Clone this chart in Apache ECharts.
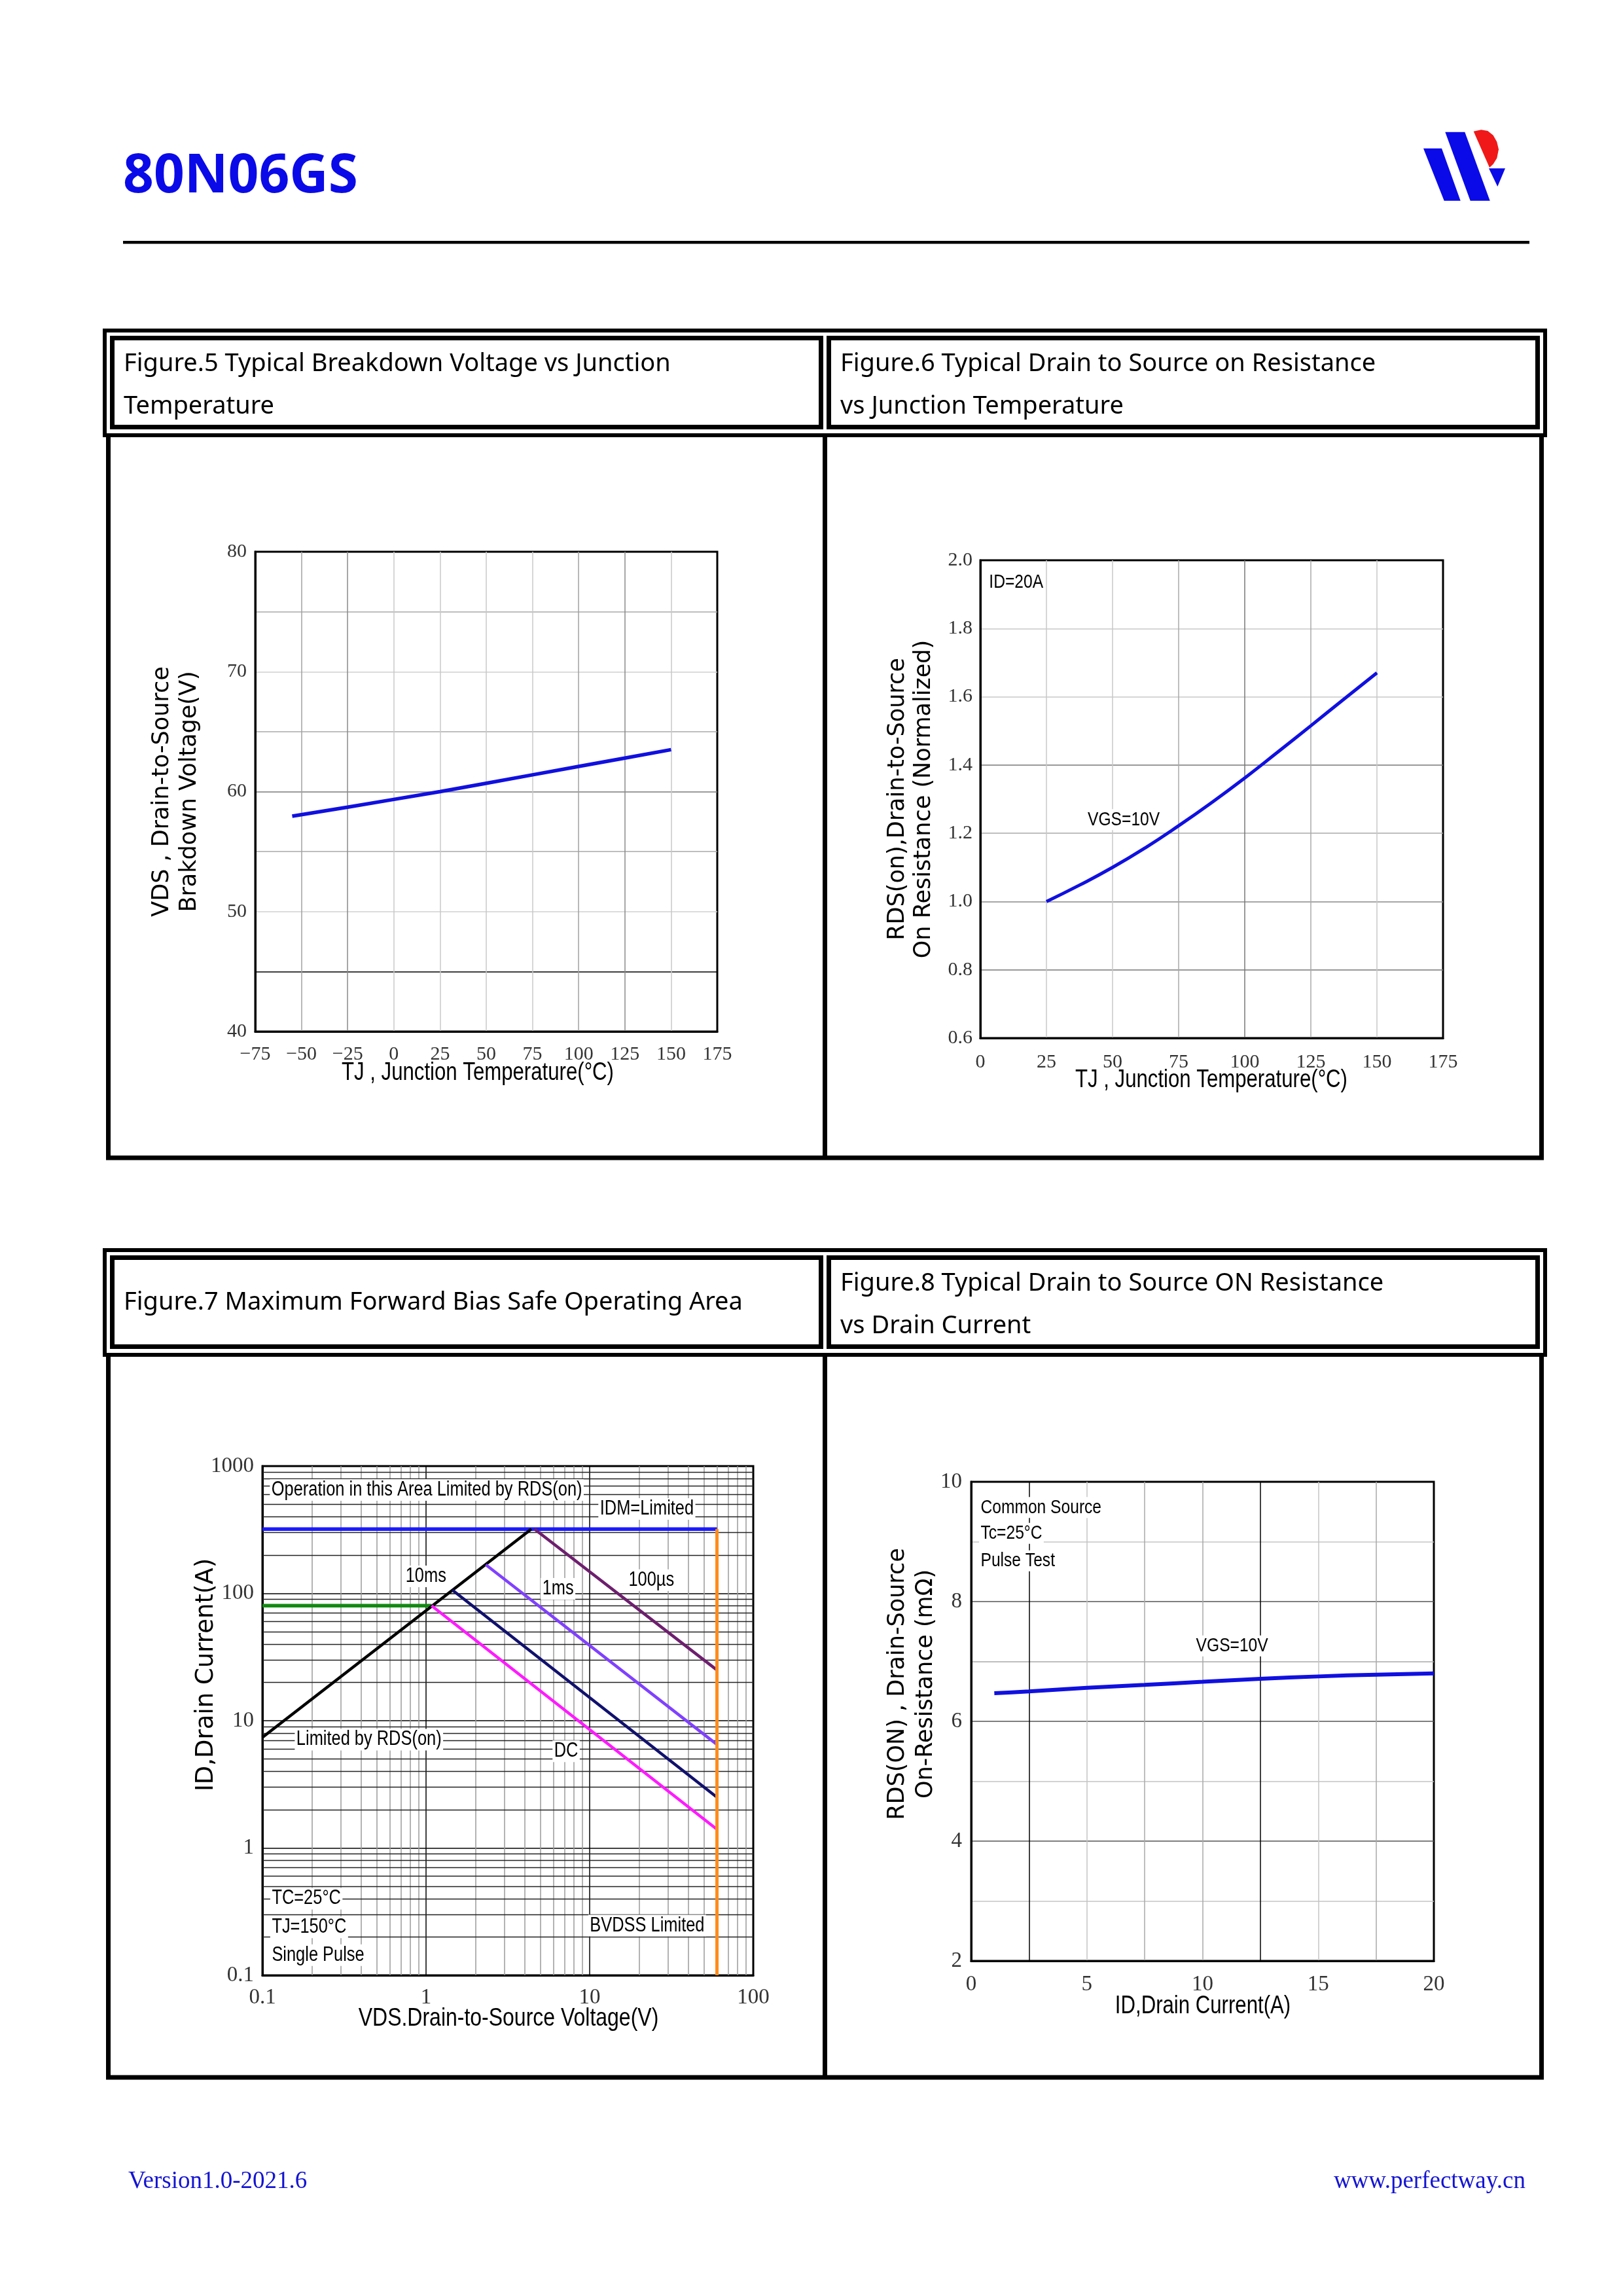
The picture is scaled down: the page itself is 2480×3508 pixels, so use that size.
<!DOCTYPE html>
<html>
<head>
<meta charset="utf-8">
<script src="https://cdn.jsdelivr.net/npm/echarts@6.0.0/dist/echarts.min.js"></script>
<style>
html,body{margin:0;padding:0;background:#fff;}
#c{width:2480px;height:3508px;}
</style>
</head>
<body>
<div id="c"></div>
<script>
// ---------------- DATA ----------------
// Figure 5: breakdown voltage vs junction temperature
const fig5Temp  = [-55, -25, 0, 25, 50, 75, 100, 125, 150];
const fig5BVDSS = [57.95, 58.7, 59.35, 60.0, 60.7, 61.4, 62.1, 62.8, 63.5];

// Figure 6: normalized RDS(on) vs junction temperature
const fig6Temp = [25, 37.5, 50, 62.5, 75, 87.5, 100, 112.5, 125, 137.5, 150];
const fig6Rds  = [1.000, 1.048, 1.100, 1.158, 1.222, 1.290, 1.362, 1.438, 1.515, 1.593, 1.670];

// Figure 7: safe operating area (VDS in V, ID in A)
const soaRdsLimitV = [0.1, 4.4];  const soaRdsLimitI = [7.4, 320];
const soaIdmV      = [0.1, 60];   const soaIdmI      = [320, 320];
const soaIdV       = [0.1, 1.08]; const soaIdI       = [80, 80];
const soaBvdssV    = [60, 60];    const soaBvdssI    = [0.1, 320];
const soa100usV    = [4.6, 60];   const soa100usI    = [320, 25];
const soa1msV      = [2.32, 60];  const soa1msI      = [168, 6.5];
const soa10msV     = [1.45, 60];  const soa10msI     = [106, 2.5];
const soaDcV       = [1.08, 60];  const soaDcI       = [80, 1.4];
const logMinorSteps = [2, 3, 4, 5, 6, 7, 8, 9];
const soaXDecades = [0.1, 1, 10];
const soaYDecades = [0.1, 1, 10, 100];

// Figure 8: RDS(on) vs drain current
const fig8Id  = [1, 2.5, 5, 7.5, 10, 12.5, 15, 17.5, 20];
const fig8Rds = [6.47, 6.50, 6.56, 6.61, 6.66, 6.71, 6.75, 6.78, 6.80];

// Texts
const pageTitle = '80N06GS';
const fig5Title = ['Figure.5 Typical Breakdown Voltage vs Junction', 'Temperature'];
const fig6Title = ['Figure.6 Typical Drain to Source on Resistance', 'vs Junction Temperature'];
const fig7Title = ['Figure.7 Maximum Forward Bias Safe Operating Area'];
const fig8Title = ['Figure.8 Typical Drain to Source ON Resistance', 'vs Drain Current'];
const footerLeft = 'Version1.0-2021.6';
const footerRight = 'www.perfectway.cn';
const fig5XName = 'TJ , Junction Temperature(°C)';
const fig6XName = 'TJ , Junction Temperature(°C)';
const fig7XName = 'VDS.Drain-to-Source Voltage(V)';
const fig8XName = 'ID,Drain Current(A)';

const fig6Notes = [
  {text: 'ID=20A', x: 2.7, y: 1.935},
  {text: 'VGS=10V', x: 40, y: 1.24}
];
const fig7Notes = [
  {text: 'Operation in this Area Limited by RDS(on)', x: 0.111, y: 650},
  {text: 'IDM=Limited', x: 11.3, y: 461},
  {text: '10ms', x: 0.733, y: 136},
  {text: '1ms', x: 5.02, y: 108.6},
  {text: '100µs', x: 16.9, y: 127},
  {text: 'Limited by RDS(on)', x: 0.1576, y: 7.1},
  {text: 'DC', x: 5.93, y: 5.75},
  {text: 'TC=25°C', x: 0.1116, y: 0.40},
  {text: 'TJ=150°C', x: 0.1116, y: 0.238},
  {text: 'Single Pulse', x: 0.1116, y: 0.144},
  {text: 'BVDSS Limited', x: 51.5, y: 0.246, pos: 'left'}
];
const fig8Notes = [
  {text: 'Common Source', x: 0.34, y: 9.57},
  {text: 'Tc=25°C', x: 0.34, y: 9.14},
  {text: 'Pulse Test', x: 0.34, y: 8.68},
  {text: 'VGS=10V', x: 9.65, y: 7.26}
];

// ---------------- STYLE HELPERS ----------------
const SERIF = '"Liberation Serif", "Times New Roman", serif';
const SANS = '"Liberation Sans", Arial, sans-serif';
const NARROW_SCALE = 0.82;
const YNAME = '"DejaVu Sans", sans-serif';
const TITLEF = '"Noto Sans", sans-serif';
const BLUE = '#1010e0';

const zip = (a, b) => a.map((v, i) => [v, b[i]]);

function valueAxis(o) {
  return Object.assign({
    type: 'value',
    axisLine: {show: true, onZero: false, lineStyle: {color: '#000', width: 3}},
    axisTick: {show: false},
    splitLine: {show: true, showMaxLine: false, showMinLine: false, lineStyle: {color: '#b8b8b8', width: 1.5}},
    nameLocation: 'middle',
    nameMoveOverlap: false,
    nameTextStyle: {color: '#000'}
  }, o);
}
function tickLabel(size, margin, fmt) {
  return {fontFamily: SERIF, fontSize: size, color: '#333', margin: margin, formatter: fmt};
}
// narrow (condensed) text drawn as a horizontally scaled graphic text
function narrowText(text, x, y, size, align, bg) {
  return {
    type: 'text', x: x, y: y, scaleX: NARROW_SCALE, z: 50,
    style: {text: text, fontFamily: SANS, fontSize: size, fill: '#000', align: align || 'center',
            verticalAlign: 'middle', backgroundColor: bg || null, padding: bg ? [1, 3] : 0}
  };
}

// minor log grid lines for fig 7
const minorX = [];
soaXDecades.forEach(d => logMinorSteps.forEach(m => minorX.push(+(d * m).toPrecision(3))));
const minorY = [];
soaYDecades.forEach(d => logMinorSteps.forEach(m => minorY.push(+(d * m).toPrecision(3))));

// ---------------- FRAMES ----------------
function frames(dy) {
  return [
    {type: 'rect', shape: {x: 160, y: 505 + dy, width: 2201, height: 160}, style: {fill: 'none', stroke: '#000', lineWidth: 6}},
    {type: 'rect', shape: {x: 171.5, y: 516.5 + dy, width: 1083, height: 136}, style: {fill: 'none', stroke: '#000', lineWidth: 7}},
    {type: 'rect', shape: {x: 1266.5, y: 516.5 + dy, width: 1083, height: 136}, style: {fill: 'none', stroke: '#000', lineWidth: 7}},
    {type: 'polyline', shape: {points: [[165.5, 665 + dy], [165.5, 1769 + dy], [2355.5, 1769 + dy], [2355.5, 665 + dy]]}, style: {fill: 'none', stroke: '#000', lineWidth: 7}},
    {type: 'line', shape: {x1: 1260.5, y1: 665 + dy, x2: 1260.5, y2: 1769 + dy}, style: {stroke: '#000', lineWidth: 7}}
  ];
}
function titleTexts(lines, x, y0, step) {
  return lines.map((t, i) => ({
    type: 'text', x: x, y: y0 + i * step,
    style: {text: t, fontFamily: TITLEF, fontSize: 38, fill: '#000', align: 'left', verticalAlign: 'middle'}
  }));
}

const graphics = [].concat(
  [
    {type: 'text', x: 188, y: 271, style: {text: pageTitle, fontFamily: TITLEF, fontWeight: 'bold', fontSize: 82, fill: '#0a0ae8', align: 'left', verticalAlign: 'middle'}},
    {type: 'rect', shape: {x: 188, y: 368, width: 2149, height: 4.5}, style: {fill: '#000'}},
    // logo
    {type: 'polygon', shape: {points: [[2175, 226.7], [2203, 226.7], [2231.7, 306.7], [2206.7, 306.7]]}, style: {fill: '#0a0ae8'}},
    {type: 'polygon', shape: {points: [[2208.3, 201.7], [2238.3, 201.7], [2276.7, 306.7], [2246.7, 306.7]]}, style: {fill: '#0a0ae8'}},
    {type: 'polygon', shape: {points: [[2251.7, 200.7], [2263.3, 198.3], [2273.3, 200], [2281.7, 206.7], [2287.3, 216.7], [2290, 228.3], [2287.3, 241.7], [2281.7, 250.7], [2276, 256]]}, style: {fill: '#f01818'}},
    {type: 'polygon', shape: {points: [[2275, 257.3], [2300, 257.3], [2288.3, 285]]}, style: {fill: '#0a0ae8'}},
    // footer
    {type: 'text', x: 196, y: 3333, style: {text: footerLeft, fontFamily: SERIF, fontSize: 37, fill: '#1414d2', align: 'left', verticalAlign: 'middle'}},
    {type: 'text', x: 2331, y: 3333, style: {text: footerRight, fontFamily: SERIF, fontSize: 37, fill: '#1414d2', align: 'right', verticalAlign: 'middle'}},
    // x axis titles (condensed)
    narrowText(fig5XName, 730, 1640, 38),
    narrowText(fig6XName, 1851, 1651, 38),
    narrowText(fig7XName, 777, 3084, 39),
    narrowText(fig8XName, 1838, 3066, 38)
  ],
  frames(0), frames(1405),
  titleTexts(fig5Title, 189, 556, 65),
  titleTexts(fig6Title, 1284, 556, 65),
  titleTexts(fig7Title, 189, 1990, 65),
  titleTexts(fig8Title, 1284, 1961, 65)
);

// ---------------- OPTION ----------------
const gridBox = {show: true, borderColor: '#000', borderWidth: 3, backgroundColor: 'transparent'};
const option = {
  animation: false,
  backgroundColor: '#fff',
  graphic: {elements: graphics},
  grid: [
    Object.assign({left: 390, top: 843, width: 706, height: 733}, gridBox),
    Object.assign({left: 1498, top: 856, width: 707, height: 730}, gridBox),
    Object.assign({left: 401, top: 2240, width: 750, height: 778}, gridBox),
    Object.assign({left: 1484, top: 2264, width: 707, height: 732}, gridBox)
  ],
  xAxis: [
    valueAxis({gridIndex: 0, min: -75, max: 175, interval: 25,
      axisLabel: tickLabel(30, 20, v => (v < 0 ? '\u2212' + Math.abs(v) : String(v))),
      splitLine: {show: true, showMaxLine: false, showMinLine: false,
        lineStyle: {color: ['#a0a0a0', '#8a8a8a', '#c8c8c8', '#c8c8c8', '#c8c8c8', '#c8c8c8', '#a0a0a0', '#8a8a8a', '#c8c8c8'], width: 1.5}}}),
    valueAxis({gridIndex: 1, min: 0, max: 175, interval: 25,
      axisLabel: tickLabel(30, 22, v => String(v)),
      splitLine: {show: true, showMaxLine: false, showMinLine: false,
        lineStyle: {color: ['#c8c8c8', '#c8c8c8', '#a8a8a8', '#777', '#a8a8a8', '#c8c8c8'], width: 1.5}}}),
    {gridIndex: 2, type: 'log', logBase: 10, min: 0.1, max: 100,
      axisLine: {show: true, onZero: false, lineStyle: {color: '#000', width: 3}}, axisTick: {show: false},
      axisLabel: tickLabel(33, 18, v => String(v)),
      splitLine: {show: true, lineStyle: {color: '#000', width: 1.5}}},
    valueAxis({gridIndex: 3, min: 0, max: 20, interval: 2.5,
      axisLabel: tickLabel(33, 20, v => (v % 5 === 0 ? String(v) : '')),
      splitLine: {show: true, showMaxLine: false, showMinLine: false,
        lineStyle: {color: ['#000', '#c4c4c4', '#a8a8a8', '#a8a8a8', '#000', '#c4c4c4', '#a8a8a8'], width: 1.5}}})
  ],
  yAxis: [
    valueAxis({gridIndex: 0, min: 40, max: 80, interval: 5,
      axisLabel: tickLabel(30, 13, v => (v % 10 === 0 ? String(v) : '')),
      splitLine: {show: true, showMaxLine: false, showMinLine: false,
        lineStyle: {color: ['#000', '#d0d0d0', '#a8a8a8', '#7a7a7a', '#a8a8a8', '#d0d0d0', '#a8a8a8'], width: 1.5}},
      name: 'VDS , Drain-to-Source\nBrakdown Voltage(V)', nameGap: 79,
      nameTextStyle: {fontFamily: YNAME, fontSize: 35, lineHeight: 42, color: '#000'}}),
    valueAxis({gridIndex: 1, min: 0.6, max: 2.0, interval: 0.2,
      axisLabel: tickLabel(30, 12, v => v.toFixed(1)),
      splitLine: {show: true, showMaxLine: false, showMinLine: false,
        lineStyle: {color: ['#777', '#888', '#a8a8a8', '#777', '#c8c8c8', '#c8c8c8'], width: 1.5}},
      name: 'RDS(on),Drain-to-Source\nOn Resistance (Normalized)', nameGap: 66,
      nameTextStyle: {fontFamily: YNAME, fontSize: 35, lineHeight: 40, color: '#000'}}),
    {gridIndex: 2, type: 'log', logBase: 10, min: 0.1, max: 1000,
      axisLine: {show: true, onZero: false, lineStyle: {color: '#000', width: 3}}, axisTick: {show: false},
      axisLabel: tickLabel(33, 13, v => String(v)),
      splitLine: {show: true, lineStyle: {color: '#000', width: 1.5}},
      name: 'ID,Drain Current(A)', nameLocation: 'middle', nameGap: 66, nameMoveOverlap: false,
      nameTextStyle: {fontFamily: YNAME, fontSize: 37, lineHeight: 40, color: '#000', padding: [0, 0, 0, 140]}},
    valueAxis({gridIndex: 3, min: 2, max: 10, interval: 1,
      axisLabel: tickLabel(33, 14, v => (v % 2 === 0 ? String(v) : '')),
      splitLine: {show: true, showMaxLine: false, showMinLine: false,
        lineStyle: {color: ['#c4c4c4', '#555', '#c4c4c4', '#555', '#a8a8a8', '#555', '#c4c4c4'], width: 1.5}},
      name: 'RDS(ON) , Drain-Source\nOn-Resistance (mΩ)', nameGap: 48,
      nameTextStyle: {fontFamily: YNAME, fontSize: 35, lineHeight: 43, color: '#000', padding: [0, 0, 0, 114]}})
  ],
  series: [
    // Figure 5
    {type: 'line', xAxisIndex: 0, yAxisIndex: 0, data: zip(fig5Temp, fig5BVDSS), showSymbol: false,
      lineStyle: {color: BLUE, width: 5.5}, z: 5},
    // Figure 6
    {type: 'line', xAxisIndex: 1, yAxisIndex: 1, data: zip(fig6Temp, fig6Rds), showSymbol: false, smooth: true,
      lineStyle: {color: BLUE, width: 5}, z: 5},
    // Figure 7 minor grid
    {type: 'line', xAxisIndex: 2, yAxisIndex: 2, data: [], z: 1, silent: true,
      markLine: {silent: true, symbol: ['none', 'none'], label: {show: false}, animation: false,
        data: minorX.map(v => ({xAxis: v, lineStyle: {color: '#9a9a9a', width: 1.5, type: 'solid'}}))
          .concat(minorY.map(v => ({yAxis: v, lineStyle: {color: '#222', width: 1.3, type: 'solid'}})))}},
    {type: 'line', xAxisIndex: 2, yAxisIndex: 2, data: zip(soaIdmV, soaIdmI), showSymbol: false, lineStyle: {color: '#1a1aff', width: 5.5}, z: 5},
    {type: 'line', xAxisIndex: 2, yAxisIndex: 2, data: zip(soaIdV, soaIdI), showSymbol: false, lineStyle: {color: '#138a13', width: 5.5}, z: 5},
    {type: 'line', xAxisIndex: 2, yAxisIndex: 2, data: zip(soaBvdssV, soaBvdssI), showSymbol: false, lineStyle: {color: '#ff8c1a', width: 5}, z: 6},
    {type: 'line', xAxisIndex: 2, yAxisIndex: 2, data: zip(soaRdsLimitV, soaRdsLimitI), showSymbol: false, lineStyle: {color: '#000', width: 4.5}, z: 5},
    {type: 'line', xAxisIndex: 2, yAxisIndex: 2, data: zip(soa100usV, soa100usI), showSymbol: false, lineStyle: {color: '#6e1f6e', width: 4.5}, z: 5},
    {type: 'line', xAxisIndex: 2, yAxisIndex: 2, data: zip(soa1msV, soa1msI), showSymbol: false, lineStyle: {color: '#8040ff', width: 4.5}, z: 5},
    {type: 'line', xAxisIndex: 2, yAxisIndex: 2, data: zip(soa10msV, soa10msI), showSymbol: false, lineStyle: {color: '#10106e', width: 4.5}, z: 5},
    {type: 'line', xAxisIndex: 2, yAxisIndex: 2, data: zip(soaDcV, soaDcI), showSymbol: false, lineStyle: {color: '#ff1aff', width: 4.5}, z: 5},
    // Figure 8
    {type: 'line', xAxisIndex: 3, yAxisIndex: 3, data: zip(fig8Id, fig8Rds), showSymbol: false, smooth: true,
      lineStyle: {color: BLUE, width: 6}, z: 5}
  ]
};

const chart = echarts.init(document.getElementById('c'), null, {width: 2480, height: 3508});
chart.setOption(option);

// annotations placed through the chart's own scales
function noteGraphics(gridIndex, arr, size) {
  return arr.map(a => {
    const p = chart.convertToPixel({gridIndex: gridIndex}, [a.x, a.y]);
    return narrowText(a.text, p[0], p[1], size, a.pos === 'left' ? 'right' : 'left', '#fff');
  });
}
const allGraphics = graphics
  .concat(noteGraphics(1, fig6Notes, 30))
  .concat(noteGraphics(2, fig7Notes, 31))
  .concat(noteGraphics(3, fig8Notes, 30));
chart.setOption({graphic: {elements: allGraphics}});
</script>
</body>
</html>
